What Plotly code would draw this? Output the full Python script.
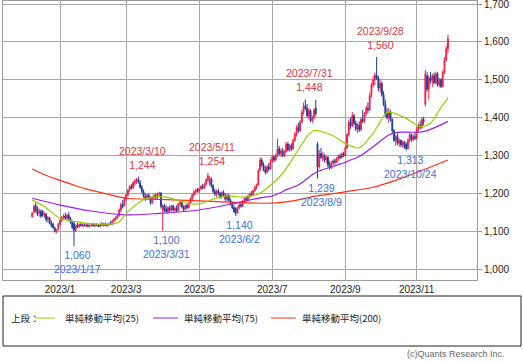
import pandas as pd
import plotly.graph_objects as go

# ---- trading calendar (TSE) ----
holidays = ["2023-01-02", "2023-01-03", "2023-01-09", "2023-02-23", "2023-03-21",
            "2023-05-03", "2023-05-04", "2023-05-05", "2023-07-17", "2023-08-11",
            "2023-09-18", "2023-10-09", "2023-11-03", "2023-11-23"]
bd = pd.bdate_range("2022-12-09", "2023-11-29")
dates = [d.strftime("%Y-%m-%d") for d in bd if d.strftime("%Y-%m-%d") not in holidays]

# ---- daily OHLC ----
opens = [
 1138,1150,1168,1158,1148,1152,1152,1142,1145,1132, 1135,1122,1118,1108,1100,1105,1118,1128,1136,1140,
 1134,1142,1133,1124,1120,1102,1115,1112,1118,1115, 1117,1114,1116,1113,1115,1118,1114,1117,1115,1113,
 1118,1116,1119,1115,1118,1120,1118,1127,1132,1137, 1141,1156,1170,1168,1186,1196,1208,1218,1214,1228,
 1232,1236,1228,1216,1205,1192,1186,1195,1188,1175, 1190,1194,1188,1198,1200,1155,1168,1158,1152,1162,
 1155,1166,1156,1160,1155,1172,1176,1164,1157,1168, 1162,1175,1186,1196,1204,1208,1206,1212,1218,1214,
 1224,1236,1225,1238,1220,1205,1198,1206,1200,1190, 1202,1194,1184,1195,1182,1172,1162,1160,1148,1162,
 1170,1166,1178,1186,1182,1192,1198,1196,1207,1216, 1222,1262,1288,1275,1262,1256,1270,1264,1285,1296,
 1288,1300,1318,1305,1312,1300,1310,1330,1315,1326, 1318,1340,1356,1374,1365,1388,1414,1430,1425,1405,
 1418,1392,1400,1425,1330,1270,1305,1295,1300,1288, 1295,1275,1268,1280,1286,1282,1292,1298,1294,1304,
 1300,1320,1355,1388,1378,1405,1385,1370,1380,1368, 1395,1390,1410,1425,1420,1458,1486,1500,1512,1505,
 1478,1490,1460,1435,1410,1400,1415,1395,1365,1340, 1350,1332,1340,1328,1335,1330,1318,1340,1355,1342,
 1350,1345,1370,1380,1374,1395,1435,1510,1475,1505, 1498,1510,1492,1516,1486,1500,1482,1520,1552,1582]
highs = [
 1150,1170,1175,1165,1160,1158,1156,1150,1148,1140, 1138,1128,1122,1112,1106,1122,1132,1140,1145,1148,
 1146,1150,1138,1128,1125,1118,1122,1120,1122,1120, 1121,1119,1120,1118,1121,1122,1120,1121,1119,1120,
 1124,1122,1123,1120,1122,1126,1130,1135,1140,1145, 1160,1175,1182,1190,1200,1212,1222,1225,1232,1238,
 1240,1244,1235,1222,1210,1200,1198,1200,1192,1192, 1198,1200,1202,1204,1203,1170,1172,1168,1165,1168,
 1170,1170,1165,1168,1175,1180,1178,1168,1170,1172, 1178,1190,1200,1208,1212,1214,1215,1222,1225,1228,
 1240,1254,1245,1242,1224,1212,1210,1212,1204,1205, 1208,1200,1198,1198,1186,1178,1168,1163,1165,1175,
 1178,1182,1190,1192,1196,1202,1206,1210,1220,1226, 1265,1295,1294,1282,1272,1275,1280,1290,1302,1300,
 1305,1345,1325,1318,1320,1315,1336,1335,1330,1332, 1345,1362,1380,1386,1394,1420,1440,1448,1436,1425,
 1422,1405,1425,1447,1335,1315,1320,1310,1305,1300, 1298,1285,1285,1290,1292,1296,1302,1305,1308,1310,
 1325,1360,1395,1400,1415,1410,1392,1385,1390,1400, 1420,1415,1432,1440,1465,1492,1510,1519,1560,1510,
 1500,1495,1470,1447,1425,1426,1420,1398,1370,1355, 1358,1345,1342,1340,1338,1334,1345,1360,1358,1355,
 1360,1375,1385,1392,1400,1402,1526,1520,1512,1520, 1515,1518,1522,1520,1505,1504,1525,1560,1590,1619]
lows = [
 1135,1148,1150,1140,1138,1135,1138,1135,1125,1122, 1118,1110,1105,1096,1094,1102,1115,1125,1130,1130,
 1128,1130,1120,1105,1060,1098,1108,1108,1112,1110, 1112,1110,1111,1109,1112,1112,1110,1113,1111,1110,
 1114,1112,1113,1111,1113,1116,1116,1124,1128,1132, 1138,1150,1160,1165,1180,1192,1204,1210,1212,1220,
 1225,1226,1212,1200,1188,1180,1182,1185,1170,1172, 1184,1185,1186,1190,1160,1100,1150,1148,1145,1150,
 1152,1152,1150,1150,1152,1165,1160,1152,1155,1158, 1160,1172,1182,1192,1198,1202,1200,1208,1210,1212,
 1220,1230,1220,1215,1200,1192,1190,1195,1186,1188, 1190,1180,1178,1178,1168,1158,1148,1140,1146,1158,
 1162,1164,1174,1178,1180,1188,1192,1194,1204,1210, 1220,1258,1270,1258,1250,1252,1258,1262,1280,1282,
 1285,1296,1300,1296,1296,1296,1308,1310,1310,1312, 1315,1336,1350,1360,1362,1385,1408,1420,1400,1395,
 1388,1386,1395,1405,1239,1265,1290,1285,1282,1280, 1270,1262,1264,1275,1276,1280,1286,1290,1292,1296,
 1298,1318,1350,1370,1375,1380,1365,1360,1362,1365, 1385,1386,1405,1412,1418,1452,1480,1485,1500,1470,
 1466,1455,1430,1402,1395,1386,1390,1360,1335,1325, 1328,1323,1322,1320,1318,1313,1316,1335,1336,1338,
 1340,1342,1362,1368,1370,1380,1430,1468,1448,1490, 1480,1488,1488,1482,1480,1478,1480,1515,1548,1570]
closes = [
 1148,1165,1155,1145,1152,1140,1142,1145,1130,1135, 1122,1115,1110,1100,1103,1118,1128,1136,1140,1134,
 1142,1133,1124,1110,1102,1115,1112,1118,1115,1117, 1114,1116,1113,1115,1118,1114,1117,1115,1113,1118,
 1116,1119,1115,1118,1120,1118,1127,1132,1137,1141, 1156,1170,1165,1186,1196,1208,1218,1214,1228,1232,
 1236,1230,1216,1205,1192,1186,1195,1188,1175,1190, 1194,1188,1198,1200,1165,1168,1155,1152,1162,1155,
 1166,1156,1160,1153,1172,1176,1164,1157,1168,1162, 1175,1186,1196,1204,1208,1206,1212,1218,1214,1224,
 1236,1246,1238,1220,1205,1198,1206,1200,1190,1202, 1194,1184,1195,1182,1172,1162,1152,1148,1162,1170,
 1166,1178,1186,1182,1192,1198,1196,1207,1216,1222, 1260,1288,1275,1262,1256,1270,1264,1285,1296,1288,
 1300,1318,1305,1312,1300,1310,1330,1315,1326,1318, 1340,1356,1374,1365,1388,1414,1430,1425,1405,1418,
 1392,1400,1420,1410,1270,1305,1295,1300,1288,1295, 1275,1268,1280,1286,1282,1292,1298,1294,1304,1300,
 1320,1355,1388,1378,1405,1385,1370,1380,1368,1395, 1390,1410,1425,1420,1458,1486,1500,1512,1505,1478,
 1490,1460,1435,1410,1400,1415,1395,1365,1340,1350, 1332,1340,1328,1335,1322,1318,1340,1355,1342,1350,
 1345,1370,1380,1374,1395,1388,1515,1475,1505,1498, 1510,1492,1516,1486,1500,1482,1520,1552,1582,1608]

# ---- moving averages (sampled from chart, by trading-day index) ----
ma25_idx = [0, 7, 16, 25, 33, 45, 50, 54, 64, 71, 77, 89, 96, 105, 112, 122, 130, 134, 144, 153,
            158, 162, 172, 180, 188, 196, 204, 207, 215, 223, 229, 234, 239]
ma25_val = [1182, 1165, 1134, 1125, 1120, 1119, 1125, 1147, 1183, 1191, 1190, 1174, 1172, 1186, 1193,
            1190, 1198, 1210, 1253, 1315, 1350, 1366, 1354, 1332, 1320, 1359, 1414, 1413, 1398, 1376,
            1385, 1420, 1452]
ma75_idx = [0, 16, 33, 54, 73, 96, 117, 131, 138, 147, 153, 163, 172, 179, 183, 188, 196, 205, 210, 225, 239]
ma75_val = [1187, 1169, 1154, 1143, 1147, 1156, 1174, 1188, 1193, 1211, 1222, 1255, 1270, 1280, 1288,
            1297, 1323, 1354, 1361, 1363, 1390]
ma200_idx = [0, 7, 16, 25, 33, 45, 54, 73, 96, 117, 138, 150, 160, 180, 196, 208, 221, 239]
ma200_val = [1264, 1249, 1234, 1220, 1209, 1196, 1187, 1184, 1180, 1176, 1174, 1180, 1190, 1204, 1216,
             1233, 1255, 1288]

tick_dates = ["2023-01-04", "2023-03-01", "2023-05-01", "2023-07-03", "2023-09-01", "2023-11-01"]
tick_labels = ["2023/1", "2023/3", "2023/5", "2023/7", "2023/9", "2023/11"]
y_ticks = [1000, 1100, 1200, 1300, 1400, 1500, 1600, 1700]

highs_marked = [("2023-03-10", 1244, "2023/3/10"), ("2023-05-11", 1254, "2023/5/11"),
                ("2023-07-31", 1448, "2023/7/31"), ("2023-09-28", 1560, "2023/9/28")]
lows_marked = [("2023-01-17", 1060, "2023/1/17"), ("2023-03-31", 1100, "2023/3/31"),
               ("2023-06-02", 1140, "2023/6/2"), ("2023-08-09", 1239, "2023/8/9"),
               ("2023-10-24", 1313, "2023/10/24")]

C_UP = "#f0204c"
C_DN = "#1b3c9e"
C25 = "#9acd00"
C75 = "#9b1cf0"
C200 = "#ff3010"
RED_TXT = "#e0353f"
BLUE_TXT = "#3d6fe0"
NUMFONT = "Liberation Sans, Arial, sans-serif"
JPFONT = "Noto Sans CJK JP, sans-serif"

fig = go.Figure()
fig.add_trace(go.Candlestick(
    x=dates, open=opens, high=highs, low=lows, close=closes,
    increasing=dict(line=dict(color=C_UP, width=1), fillcolor=C_UP),
    decreasing=dict(line=dict(color=C_DN, width=1), fillcolor=C_DN),
    whiskerwidth=0, showlegend=False, hoverinfo="skip"))
for idx, val, col in [(ma200_idx, ma200_val, C200), (ma75_idx, ma75_val, C75), (ma25_idx, ma25_val, C25)]:
    fig.add_trace(go.Scatter(x=[dates[i] for i in idx], y=val, mode="lines",
                             line=dict(color=col, width=1.2, shape="spline", smoothing=0.8),
                             showlegend=False, hoverinfo="skip"))

ann = []
for d, v, lab in highs_marked:
    ann.append(dict(x=d, y=v, xref="x", yref="y", text=f"{lab}<br>{v:,}", showarrow=False,
                    yanchor="bottom", xanchor="center", xshift=4, yshift=4,
                    font=dict(family=NUMFONT, size=10.5, color=RED_TXT)))
for d, v, lab in lows_marked:
    ann.append(dict(x=d, y=v, xref="x", yref="y", text=f"{v:,}<br>{lab}", showarrow=False,
                    yanchor="top", xanchor="center", xshift=4, yshift=-1,
                    font=dict(family=NUMFONT, size=10.5, color=BLUE_TXT)))

# legend (drawn manually in paper coords)
W0, W1 = 3, 477
H0, H1 = 1, 280
def px(xp):
    return (xp - W0) / (W1 - W0)
def py(yp):
    return (H1 - yp) / (H1 - H0)

shapes = [dict(type="rect", xref="paper", yref="paper", x0=px(3), x1=px(521), y0=py(346), y1=py(296),
               line=dict(color="#222222", width=1), fillcolor="rgba(0,0,0,0)")]
legend_items = [(C25, 35, 55, 63, "単純移動平均(25)"), (C75, 153, 178, 182, "単純移動平均(75)"),
                (C200, 271, 296, 300, "単純移動平均(200)")]
ann.append(dict(x=px(9), y=py(318), xref="paper", yref="paper", text="上段：", showarrow=False,
                xanchor="left", yanchor="middle", font=dict(family=JPFONT, size=9.5, color="#222")))
for col, lx0, lx1, tx, lab in legend_items:
    shapes.append(dict(type="line", xref="paper", yref="paper", x0=px(lx0), x1=px(lx1), y0=py(318), y1=py(318),
                       line=dict(color=col, width=1)))
    ann.append(dict(x=px(tx), y=py(318), xref="paper", yref="paper", text=lab, showarrow=False,
                    xanchor="left", yanchor="middle", font=dict(family=JPFONT, size=9.5, color="#222")))
ann.append(dict(x=px(507), y=py(354), xref="paper", yref="paper", text="(c)Quants Research Inc.",
                showarrow=False, xanchor="right", yanchor="middle",
                font=dict(family=NUMFONT, size=9, color="#666")))

fig.update_layout(
    width=523, height=362, margin=dict(l=W0, r=523 - W1, t=H0, b=362 - H1, autoexpand=False),
    paper_bgcolor="white", plot_bgcolor="white",
    annotations=ann, shapes=shapes, showlegend=False,
    xaxis=dict(type="category", range=[-16.8, 255.7], tickmode="array", tickvals=tick_dates,
               ticktext=tick_labels, showgrid=True, gridcolor="#a8a8a8", gridwidth=1, automargin=False,
               showline=True, linecolor="#999999", mirror=True, ticks="", rangeslider=dict(visible=False),
               tickfont=dict(family=NUMFONT, size=10, color="#222"), fixedrange=True),
    yaxis=dict(side="right", range=[971, 1708], tickmode="array", tickvals=y_ticks, tickformat=",",
               showgrid=True, gridcolor="#a8a8a8", gridwidth=1, showline=True, linecolor="#999999",
               mirror=True, ticks="outside", ticklen=4, tickcolor="#999999", zeroline=False, automargin=False,
               ticklabeloverflow="allow",
               tickfont=dict(family=NUMFONT, size=10, color="#222"), fixedrange=True),
)
fig.write_html("out.html", config={"displayModeBar": False},
               post_script="document.body.style.margin='0';document.body.style.overflow='hidden';")
